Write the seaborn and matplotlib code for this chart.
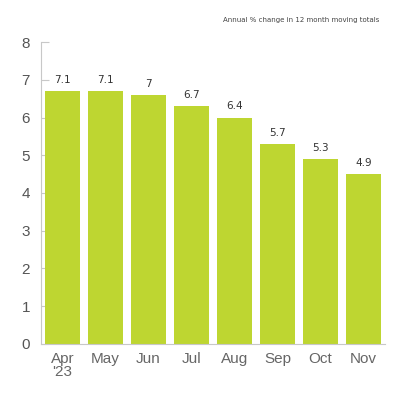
import matplotlib
matplotlib.use("Agg")
import matplotlib.pyplot as plt
import seaborn as sns
import pandas as pd

# values
months = ["Apr\n'23", "May", "Jun", "Jul", "Aug", "Sep", "Oct", "Nov"]
bar_heights = [6.7, 6.7, 6.6, 6.3, 6.0, 5.3, 4.9, 4.5]
bar_labels = ["7.1", "7.1", "7", "6.7", "6.4", "5.7", "5.3", "4.9"]

df = pd.DataFrame({"month": months, "value": bar_heights})

sns.set_style("white")
plt.rcParams["font.family"] = ["Liberation Sans", "DejaVu Sans"]

fig = plt.figure(figsize=(4, 4), dpi=100)
ax = fig.add_axes([0.1025, 0.1408, 0.86, 0.7535])

sns.barplot(data=df, x="month", y="value", color="#bed631", saturation=1,
            width=0.8, linewidth=0, ax=ax)

for i, (h, lab) in enumerate(zip(bar_heights, bar_labels)):
    ax.text(i, h + 0.17, lab, ha="center", va="bottom", fontsize=7.5,
            color="#333333", family=["Liberation Sans Narrow", "DejaVu Sans"])

ax.set_ylim(0, 8)
ax.set_xlim(-0.5, 7.5)
ax.set_yticks(range(0, 9))
ax.set_xlabel("")
ax.set_ylabel("")

for s in ["top", "right"]:
    ax.spines[s].set_visible(False)
for s in ["left", "bottom"]:
    ax.spines[s].set_color("#c8c8c8")
    ax.spines[s].set_linewidth(0.8)

ax.tick_params(axis="y", direction="in", length=6, width=0.8, color="#c8c8c8",
               labelsize=11, labelcolor="#555555", pad=8, left=True)
ax.set_xticks([x + 0.5 for x in range(7)], minor=True)
ax.tick_params(axis="x", which="minor", direction="in", length=6, width=0.8,
               color="#c8c8c8")
ax.tick_params(axis="x", which="major", length=0, labelsize=11,
               labelcolor="#666666", pad=6)
for t in ax.get_xticklabels():
    t.set_linespacing(0.95)

fig.text(0.948, 0.95, "Annual % change in 12 month moving totals",
         ha="right", va="center", fontsize=5, color="#444444",
         family=["Liberation Sans Narrow", "DejaVu Sans"])

fig.savefig("out.png", dpi=100)
